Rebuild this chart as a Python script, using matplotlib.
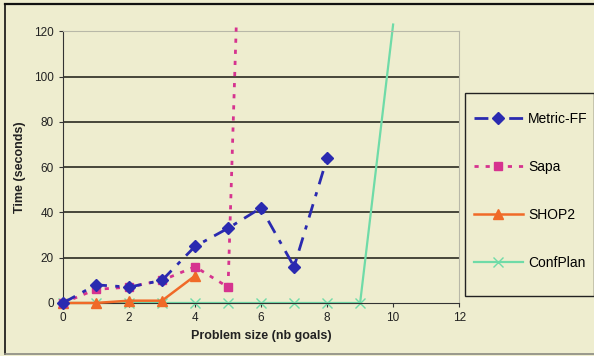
import matplotlib
matplotlib.use("Agg")
import matplotlib.pyplot as plt
from matplotlib.lines import Line2D

plt.rcParams['font.family'] = ['Liberation Sans', 'DejaVu Sans']

# Data
metric_x = [0, 1, 2, 3, 4, 5, 6, 7, 8]
metric_y = [0, 8, 7, 10, 25, 33, 42, 16, 64]
sapa_x = [0, 1, 2, 3, 4, 5, 5.25]
sapa_y = [0, 6, 7, 10, 16, 7, 123]
shop_x = [0, 1, 2, 3, 4]
shop_y = [0, 0, 1, 1, 12]
conf_x = [0, 1, 2, 3, 4, 5, 6, 7, 8, 9, 10]
conf_y = [0, 0, 0, 0, 0, 0, 0, 0, 0, 0, 123]

xticks = [0, 2, 4, 6, 8, 10, 12]
yticks = [0, 20, 40, 60, 80, 100, 120]

bg = '#EEEDCF'
c_metric = '#2A2AB0'
c_sapa = '#D6338F'
c_shop = '#F06A28'
c_conf = '#6FDBA8'
ls_metric = (0, (5, 3, 1.5, 3))
ls_sapa = (0, (1.5, 2.5))

fig = plt.figure(figsize=(5.94, 3.56), dpi=100, facecolor=bg)
ax = fig.add_axes([0.106, 0.149, 0.667, 0.763], facecolor=bg)

# ConfPlan: markers only on the measured points, line runs off the top
ax.plot(conf_x[:-1], conf_y[:-1], color=c_conf, linestyle='none', marker='x',
        markersize=7, markeredgewidth=1, clip_on=False, zorder=2)
ax.plot(conf_x, conf_y, color=c_conf, linewidth=1.6, clip_on=False, zorder=2)
ax.plot(shop_x, shop_y, color=c_shop, linewidth=1.8, marker='^',
        markersize=7, clip_on=False, zorder=3)
ax.plot(sapa_x[:-1], sapa_y[:-1], color=c_sapa, linewidth=2, linestyle=ls_sapa,
        marker='s', markersize=6, clip_on=False, zorder=4)
ax.plot(sapa_x[-2:], sapa_y[-2:], color=c_sapa, linewidth=2, linestyle=ls_sapa,
        clip_on=False, zorder=4)
ax.plot(metric_x, metric_y, color=c_metric, linewidth=2, linestyle=ls_metric,
        marker='D', markersize=6.5, clip_on=False, zorder=5)

ax.set_xlim(0, 12)
ax.set_ylim(0, 120)
ax.set_xticks(xticks)
ax.set_yticks(yticks)
ax.tick_params(labelsize=8.5, length=3, color='#333333', labelcolor='#222222')
for y in yticks[1:-1]:
    ax.axhline(y, color='#2A2A20', linewidth=1.2, zorder=1)

ax.spines['left'].set_color('#333333')
ax.spines['bottom'].set_color('#333333')
ax.spines['top'].set_color('#B8B8A8')
ax.spines['right'].set_color('#B8B8A8')
ax.spines['top'].set_linewidth(0.8)
ax.spines['right'].set_linewidth(0.8)

ax.set_xlabel('Problem size (nb goals)', fontsize=9, fontweight='bold', color='#222222', labelpad=4)
ax.set_ylabel('Time (seconds)', fontsize=9, fontweight='bold', color='#222222', labelpad=6)

# legend box drawn by hand, entries centred inside it
box = (0.783, 0.169, 0.217, 0.570)
fig.patches.append(plt.Rectangle(box[:2], box[2], box[3], transform=fig.transFigure,
                                 fill=False, edgecolor='#222222', linewidth=1.0))
h_metric = Line2D([], [], color=c_metric, linewidth=2, linestyle=ls_metric, marker='D', markersize=6.5)
h_sapa = Line2D([], [], color=c_sapa, linewidth=2, linestyle=ls_sapa, marker='s', markersize=6)
h_shop = Line2D([], [], color=c_shop, linewidth=1.8, marker='^', markersize=7)
h_conf = Line2D([], [], color=c_conf, linewidth=1.6, marker='x', markersize=7)
fig.legend([h_metric, h_sapa, h_shop, h_conf], ['Metric-FF', 'Sapa', 'SHOP2', 'ConfPlan'],
           loc='center', bbox_to_anchor=(0.783 + 0.107 + 0.004, box[1] + box[3] / 2 + 0.01),
           fontsize=10, frameon=False, labelspacing=2.45, handlelength=3.5,
           borderpad=0, handletextpad=0.4)

# outer frame: dark top and left, grey bottom
fig.add_artist(Line2D([0.008, 1.0], [0.988, 0.988], transform=fig.transFigure, color='#111111', linewidth=1.6))
fig.add_artist(Line2D([0.008, 0.008], [0.006, 0.988], transform=fig.transFigure, color='#111111', linewidth=1.2))
fig.add_artist(Line2D([0.008, 1.0], [0.006, 0.006], transform=fig.transFigure, color='#8A8A80', linewidth=1.2))

fig.savefig('out.png', dpi=100, facecolor=bg)
